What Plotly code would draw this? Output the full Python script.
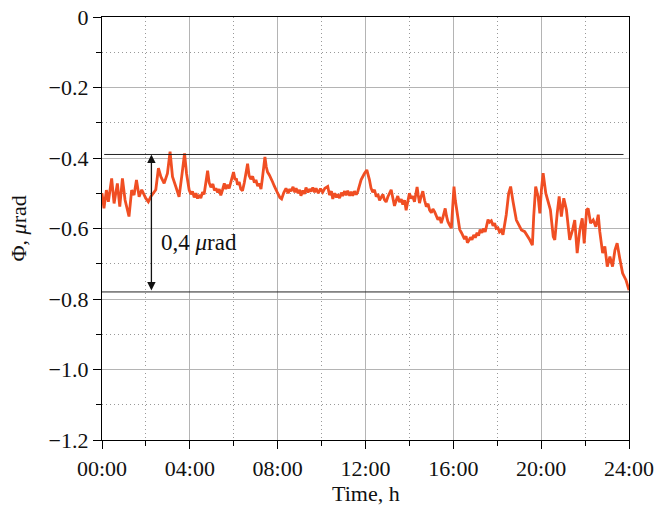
import plotly.graph_objects as go

# hours and phase values (µrad)
hours = [0.0, 0.02, 0.09, 0.2, 0.29, 0.44, 0.55, 0.70, 0.81, 0.93, 1.05, 1.23, 1.35, 1.46, 1.57, 1.69, 1.81,
         1.99, 2.11, 2.22, 2.33, 2.45, 2.57, 2.68, 2.83, 2.98, 3.10, 3.21, 3.36, 3.51, 3.63, 3.76, 3.85,
         3.97, 4.05, 4.12, 4.20, 4.28, 4.35, 4.42, 4.5, 4.58, 4.65, 4.72, 4.81, 4.88, 4.96, 5.05, 5.12,
         5.19, 5.27, 5.34, 5.41, 5.49, 5.57, 5.64, 5.72, 5.79, 5.87, 5.93, 5.99, 6.06, 6.12, 6.17, 6.25,
         6.32, 6.40, 6.48, 6.56, 6.63, 6.70, 6.78, 6.86, 6.94, 7.01, 7.09, 7.16, 7.24, 7.30, 7.36, 7.42,
         7.48, 7.54, 7.62, 7.70, 7.77, 7.85, 7.92,
         8.0, 8.1, 8.18, 8.28, 8.38, 8.48, 8.55, 8.61, 8.7, 8.78, 8.84, 8.93, 9.0, 9.06, 9.15, 9.22, 9.29,
         9.38, 9.45, 9.52, 9.6, 9.68, 9.75, 9.85, 9.95, 10.05, 10.15, 10.28, 10.36, 10.45, 10.51, 10.6,
         10.68, 10.73, 10.82, 10.9, 10.96, 11.05, 11.12, 11.19, 11.28, 11.35, 11.42, 11.5, 11.58, 11.65,
         11.80, 11.95, 12.06,
         12.18, 12.25, 12.33, 12.41, 12.49, 12.56, 12.64, 12.71, 12.79, 12.86, 12.94, 13.02, 13.1, 13.17,
         13.25, 13.32, 13.4, 13.47, 13.55, 13.63, 13.7, 13.78, 13.85, 13.92, 14.0, 14.08, 14.15, 14.23,
         14.3, 14.35, 14.4, 14.46, 14.53, 14.61, 14.69, 14.77, 14.85, 14.92, 15.0, 15.07, 15.15, 15.22,
         15.30, 15.38, 15.45, 15.52, 15.58, 15.63, 15.69, 15.75, 15.83, 15.91, 15.97, 16.03,
         16.09, 16.14, 16.22, 16.29, 16.37, 16.44, 16.51, 16.58, 16.64, 16.70, 16.78, 16.85, 16.93, 17.0,
         17.08, 17.15, 17.22, 17.3, 17.38, 17.45, 17.52, 17.58, 17.65, 17.73, 17.81, 17.88, 17.95, 18.03,
         18.1, 18.18, 18.26,
         18.41, 18.52, 18.61, 18.72, 18.87, 19.1, 19.25, 19.48, 19.60, 19.66,
         19.75, 19.86, 19.94, 20.01, 20.09, 20.21, 20.32, 20.42, 20.55, 20.62, 20.73, 20.82, 20.92, 21.03,
         21.15, 21.30, 21.43, 21.53, 21.64, 21.76, 21.87, 21.96, 22.07, 22.14, 22.25, 22.37, 22.49, 22.60,
         22.67, 22.80, 22.90, 23.01, 23.13, 23.25, 23.36, 23.46, 23.59, 23.71, 23.86, 23.96, 24.0]
phase = [-0.50, -0.514, -0.543, -0.491, -0.524, -0.458, -0.529, -0.472, -0.538, -0.458, -0.519, -0.566, -0.491,
         -0.505, -0.462, -0.51, -0.49, -0.514, -0.524, -0.51, -0.50, -0.49, -0.429, -0.453, -0.472, -0.444,
         -0.382, -0.453, -0.481, -0.51, -0.453, -0.387, -0.444,
         -0.491, -0.503, -0.495, -0.512, -0.500, -0.515, -0.505, -0.514, -0.497, -0.503, -0.470, -0.436,
         -0.470, -0.483, -0.474, -0.492, -0.486, -0.498, -0.488, -0.506, -0.490, -0.472, -0.488, -0.476,
         -0.486, -0.466, -0.450, -0.440, -0.462, -0.458, -0.476, -0.468, -0.488, -0.493, -0.470, -0.440,
         -0.416, -0.450, -0.460, -0.452, -0.470, -0.462, -0.480, -0.472, -0.488, -0.460, -0.434, -0.397,
         -0.425, -0.440, -0.448, -0.462, -0.468, -0.480, -0.492,
         -0.50, -0.512, -0.516, -0.498, -0.486, -0.500, -0.488, -0.494, -0.482, -0.497, -0.486, -0.500,
         -0.490, -0.507, -0.492, -0.502, -0.484, -0.498, -0.488, -0.495, -0.484, -0.497, -0.486, -0.500,
         -0.487, -0.497, -0.486, -0.481, -0.505, -0.494, -0.516, -0.500, -0.512, -0.503, -0.514, -0.498,
         -0.508, -0.494, -0.506, -0.493, -0.507, -0.496, -0.507, -0.494, -0.504, -0.495,
         -0.462, -0.444, -0.434,
         -0.462, -0.485, -0.497, -0.490, -0.510, -0.502, -0.520, -0.510, -0.503, -0.518, -0.525, -0.510,
         -0.500, -0.490, -0.515, -0.536, -0.520, -0.508, -0.525, -0.517, -0.532, -0.520, -0.548, -0.520,
         -0.500, -0.515, -0.508, -0.524, -0.500, -0.482, -0.505, -0.528, -0.510, -0.494, -0.520, -0.538,
         -0.530, -0.548, -0.555, -0.545, -0.553, -0.565, -0.575, -0.568, -0.585, -0.570, -0.550, -0.543,
         -0.565, -0.580, -0.590, -0.599, -0.540, -0.481,
         -0.520, -0.545, -0.585, -0.603, -0.612, -0.620, -0.630, -0.622, -0.640, -0.635, -0.625, -0.632,
         -0.618, -0.626, -0.612, -0.620, -0.603, -0.612, -0.600, -0.610, -0.590, -0.575, -0.582, -0.578,
         -0.592, -0.585, -0.600, -0.598, -0.610, -0.605, -0.618,
         -0.561, -0.50, -0.481, -0.524, -0.576, -0.604, -0.609, -0.632, -0.647, -0.566,
         -0.481, -0.509, -0.557, -0.491, -0.443, -0.50, -0.528, -0.547, -0.623, -0.632, -0.557, -0.509,
         -0.566, -0.514, -0.547, -0.632, -0.604, -0.576, -0.670, -0.604, -0.571, -0.642, -0.547, -0.543,
         -0.585, -0.576, -0.595, -0.561, -0.609, -0.670, -0.651, -0.708, -0.680, -0.708, -0.661, -0.642,
         -0.689, -0.727, -0.746, -0.770, -0.775]

x_ticks = [0, 4, 8, 12, 16, 20, 24]
x_ticktext = ["00:00", "04:00", "08:00", "12:00", "16:00", "20:00", "24:00"]
y_ticks = [0, -0.2, -0.4, -0.6, -0.8, -1.0, -1.2]
y_ticktext = ["0", "\u22120.2", "\u22120.4", "\u22120.6", "\u22120.8", "\u22121.0", "\u22121.2"]

upper_level = -0.39
lower_level = -0.78
arrow_hour = 2.25
label_hour = 2.6
label_value = -0.64

FONT = "Liberation Serif"
TXT = "#111"

fig = go.Figure()
fig.add_trace(go.Scatter(x=hours, y=phase, mode="lines",
                         line=dict(color="#F04E23", width=2.8), showlegend=False))

fig.add_shape(type="line", xref="x", yref="y", x0=0.1, x1=23.75, y0=upper_level, y1=upper_level,
              line=dict(color="#222", width=1))
fig.add_shape(type="line", xref="x", yref="y", x0=0, x1=24, y0=lower_level, y1=lower_level,
              line=dict(color="#222", width=1))

fig.add_annotation(x=arrow_hour, y=upper_level, ax=arrow_hour, ay=lower_level,
                   xref="x", yref="y", axref="x", ayref="y", text="",
                   showarrow=True, arrowhead=2, arrowside="end+start", arrowsize=1.3,
                   arrowwidth=1.3, arrowcolor=TXT)
fig.add_annotation(x=label_hour, y=label_value, xref="x", yref="y", text="0,4 <i>\u03bc</i>rad",
                   showarrow=False, xanchor="left", yanchor="middle",
                   font=dict(family=FONT, size=23, color=TXT))

# axis titles
fig.add_annotation(x=0.5, y=0, xref="paper", yref="paper", yshift=-53, text="Time, h",
                   showarrow=False, xanchor="center", yanchor="middle",
                   font=dict(family=FONT, size=22, color=TXT))
fig.add_annotation(x=0, y=0.5, xref="paper", yref="paper", xshift=-84, text="\u03a6, <i>\u03bc</i>rad",
                   showarrow=False, xanchor="center", yanchor="middle", textangle=-90,
                   font=dict(family=FONT, size=22, color=TXT))

axis_common = dict(showline=True, linecolor="black", linewidth=1.2, mirror=True,
                   ticks="outside", ticklen=8, tickcolor="black", tickwidth=1.2,
                   showgrid=True, gridcolor="#b4b4b4", gridwidth=1, zeroline=False,
                   automargin=False,
                   tickfont=dict(family=FONT, size=22, color=TXT))

minor_common = dict(ticklen=5, ticks="outside", tickcolor="black", showgrid=True,
                    griddash="1px,3px", gridcolor="#999999", gridwidth=1)

fig.update_xaxes(range=[0, 24], tickvals=x_ticks, ticktext=x_ticktext,
                 minor=dict(dtick=2, tick0=0, **minor_common), **axis_common)
fig.update_yaxes(range=[-1.2, 0], tickvals=y_ticks, ticktext=y_ticktext,
                 minor=dict(dtick=0.1, tick0=0, **minor_common), **axis_common)

fig.update_layout(width=656, height=510, margin=dict(l=102, r=27, t=17, b=70),
                  plot_bgcolor="white", paper_bgcolor="white")

# remove the page's default body margin so the figure fills the window exactly
fig.write_html("out.html", config={"displayModeBar": False},
               post_script="document.body.style.margin='0';document.body.style.overflow='hidden';")
